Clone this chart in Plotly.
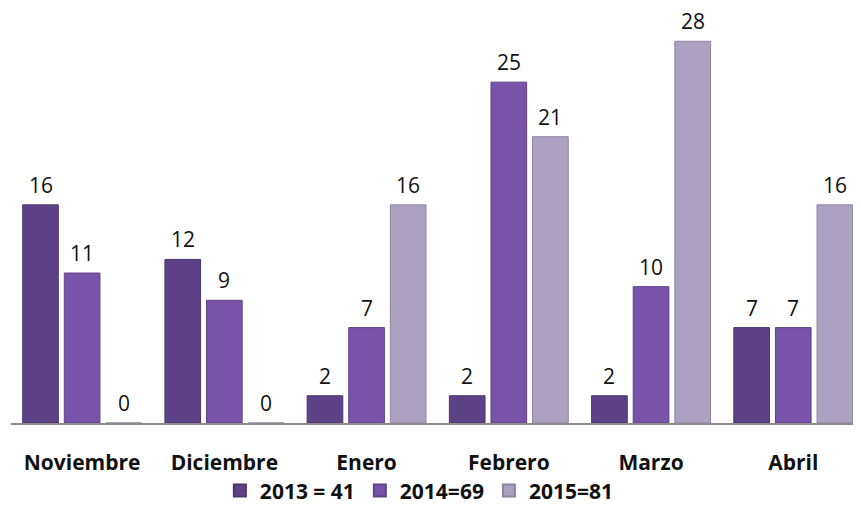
import plotly.graph_objects as go

categories = ["Noviembre", "Diciembre", "Enero", "Febrero", "Marzo", "Abril"]
series_names = ["2013 = 41", "2014=69", "2015=81"]
values_2013 = [16, 12, 2, 2, 2, 7]
values_2014 = [11, 9, 7, 25, 10, 7]
values_2015 = [0, 0, 16, 21, 28, 16]
series_values = [values_2013, values_2014, values_2015]
colors = ["#5D4288", "#7753A9", "#ADA1C2"]
line_colors = ["#4A3570", "#5F428A", "#8E839F"]

FONT = "Open Sans"
BARGAP = 0.1225
BARGROUPGAP = 0.143

fig = go.Figure()
for name, vals, c, lc in zip(series_names, series_values, colors, line_colors):
    fig.add_trace(go.Bar(
        x=categories, y=vals, name=name,
        marker=dict(color=c, line=dict(color=lc, width=1)),
        cliponaxis=False,
    ))

# value labels above the bars
n = len(series_values)
slot = (1 - BARGAP) / n
for i, vals in enumerate(series_values):
    off = (i - (n - 1) / 2) * slot
    for ci, v in enumerate(vals):
        fig.add_annotation(
            x=ci + off, y=v, xref="x", yref="y",
            text=str(v), showarrow=False, yanchor="bottom",
            yshift=4, font=dict(family=FONT, size=21, color="#111111"),
        )

fig.update_layout(
    width=845, height=511,
    margin=dict(l=3, r=0, t=6, b=96),
    paper_bgcolor="white", plot_bgcolor="white",
    barmode="group", bargap=BARGAP, bargroupgap=BARGROUPGAP,
    font=dict(family=FONT, color="#111111"),
    showlegend=True,
    legend=dict(
        orientation="h", x=0.485, xanchor="center", y=-0.166, yanchor="middle",
        font=dict(family=FONT, size=21, color="#111111", weight="bold"),
        itemsizing="constant",
    ),
)
fig.update_xaxes(
    type="category", range=[-0.5, 5.42],
    showline=True, linecolor="#8C8C8C", linewidth=2,
    showgrid=False, zeroline=False,
    ticks="outside", ticklen=20, tickcolor="rgba(0,0,0,0)",
    tickfont=dict(family=FONT, size=21, color="#111111", weight="bold"),
)
fig.update_yaxes(
    range=[0, 30], visible=False, showgrid=False, zeroline=False,
)

fig.write_html("out.html")
